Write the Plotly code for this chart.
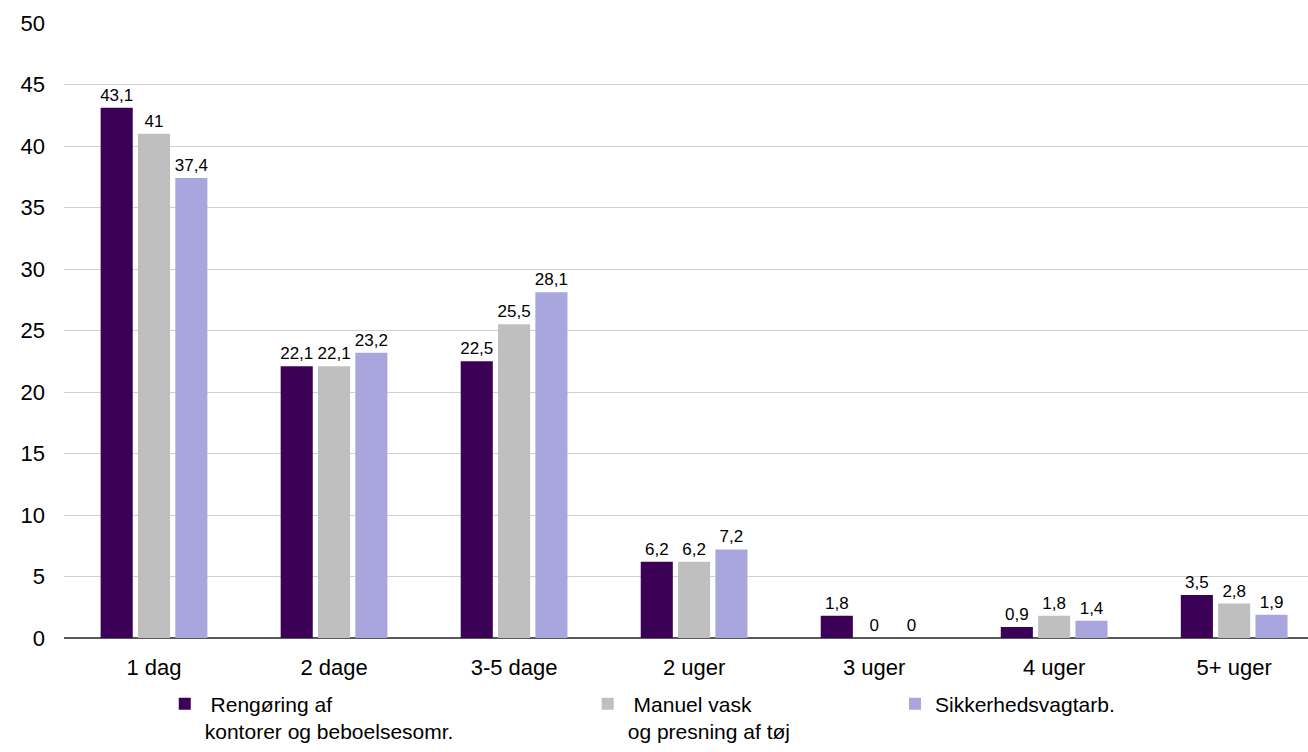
import plotly.graph_objects as go

categories = ["1 dag", "2 dage", "3-5 dage", "2 uger", "3 uger", "4 uger", "5+ uger"]
rengoring = [43.1, 22.1, 22.5, 6.2, 1.8, 0.9, 3.5]
manuel = [41, 22.1, 25.5, 6.2, 0, 1.8, 2.8]
sikkerhed = [37.4, 23.2, 28.1, 7.2, 0, 1.4, 1.9]
series_names = [
    "\u00a0Rengøring af<br>kontorer og beboelsesomr.",
    "\u00a0Manuel vask<br>og presning af tøj",
    "Sikkerhedsvagtarb.",
]
colors = ["#3B0157", "#BFBFBF", "#A9A6DE"]
y_ticks = [0, 5, 10, 15, 20, 25, 30, 35, 40, 45, 50]


def fmt(v):
    s = ("%g" % v)
    return s.replace(".", ",")


fig = go.Figure()
legends = ["legend", "legend2", "legend3"]
for vals, name, col, lg in zip([rengoring, manuel, sikkerhed], series_names, colors, legends):
    fig.add_trace(go.Bar(
        x=categories, y=vals, name=name,
        marker=dict(color=col, line=dict(width=0)),
        text=[fmt(v) for v in vals], textposition="outside",
        textfont=dict(size=17, color="#000000", family="Liberation Sans, Arial"),
        constraintext="none", cliponaxis=False,
        legend=lg,
    ))

legend_common = dict(
    orientation="h", yanchor="top", xanchor="left", y=-0.074,
    font=dict(size=21, color="#000000", family="Liberation Sans, Arial"),
    valign="top", bgcolor="rgba(0,0,0,0)", itemclick=False,
)

fig.update_layout(
    width=1308, height=752,
    margin=dict(l=64, r=0, t=23, b=112),
    paper_bgcolor="white", plot_bgcolor="white",
    barmode="group", bargap=0.378, bargroupgap=0.14,
    font=dict(family="Liberation Sans, Arial", color="#000000"),
    showlegend=True,
    legend=dict(x=0.081, **legend_common),
    legend2=dict(x=0.421, **legend_common),
    legend3=dict(x=0.668, **legend_common),
    xaxis=dict(
        range=[-0.5, 6.41], showgrid=False, showline=False, zeroline=False,
        tickfont=dict(size=22, color="#000000"), ticks="", ticklabelstandoff=14,
    ),
    yaxis=dict(
        range=[0, 50], tickvals=y_ticks, showgrid=True, gridcolor="#D0D0D0", gridwidth=1,
        zeroline=True, zerolinecolor="#595959", zerolinewidth=2, showline=False,
        tickfont=dict(size=22, color="#000000"), ticks="", ticklabelstandoff=18,
    ),
)

fig.write_html("out.html")
